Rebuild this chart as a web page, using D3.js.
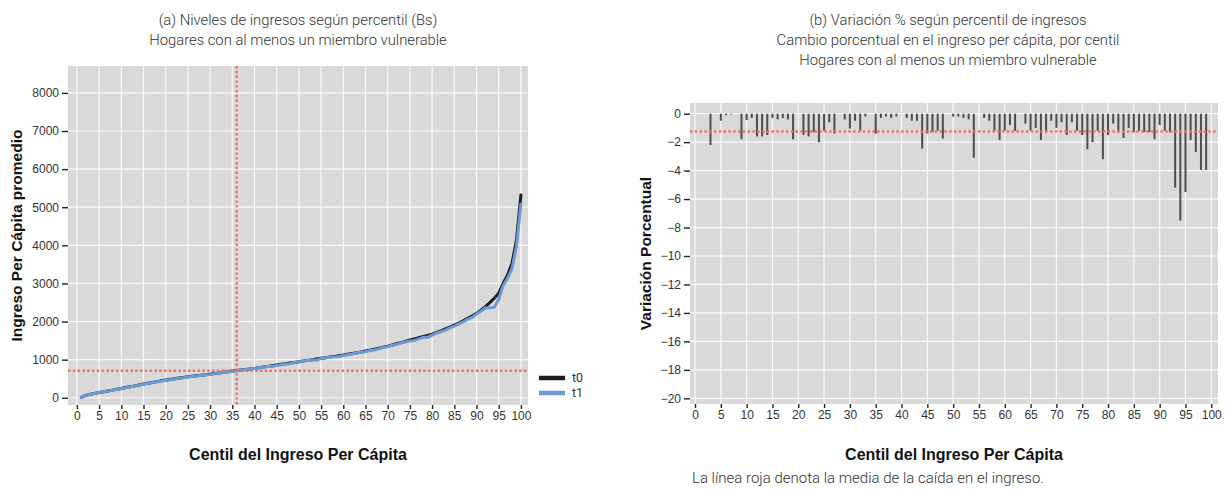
<!DOCTYPE html>
<html><head><meta charset="utf-8">
<script src="https://cdn.jsdelivr.net/npm/d3@7"></script>
<style>
body{margin:0;background:#fff;}
svg{display:block;font-family:Roboto,"Liberation Sans",sans-serif;}
.bold{font-family:"Liberation Sans",Arial,sans-serif;font-weight:700;}
</style>
</head><body>
<svg id="chart" width="1228" height="489"></svg>
<script>
// ---------- data ----------
const centiles = d3.range(1, 101);
const incomeT0 = [10,60,90,115,140,160,180,200,222,245,268,290,312,336,360,380,402,423,444,465,
  482,500,517,534,550,564,578,592,606,620,636,652,668,684,700,714,728,742,756,770,
  788,806,824,842,860,877,894,911,928,945,963,981,999,1017,1035,1052,1069,1086,1103,1120,
  1140,1161,1182,1203,1225,1250,1276,1302,1328,1355,1385,1416,1448,1481,1515,1545,1575,1606,1638,1670,
  1713,1757,1805,1855,1905,1962,2020,2082,2147,2215,2300,2390,2495,2610,2740,3000,3220,3530,4140,5320];
const incomeT1 = [8,58,88,113,139,158,178,198,218,243,265,286,308,331,358,378,400,421,436,464,
  475,492,510,523,543,561,570,591,603,613,633,644,666,683,690,712,726,740,754,769,
  785,802,820,821,848,866,883,895,927,943,961,978,995,985,1034,1049,1064,1073,1083,1107,
  1131,1147,1181,1195,1210,1238,1252,1285,1321,1341,1377,1395,1439,1463,1492,1506,1544,1587,1586,1645,
  1701,1734,1774,1836,1880,1938,1994,2055,2108,2197,2272,2359,2365,2372,2580,2945,3133,3391,3977,5080];
const variationPct = [0,0,-2.2,0,-0.5,-0.1,-0.05,0,-1.8,-0.45,
  -0.3,-1.6,-1.6,-1.5,-0.3,-0.4,-0.3,-0.4,-1.8,0,
  -1.5,-1.6,-1.3,-2.0,-1.2,-0.6,-1.4,0,-0.4,-1.05,
  -0.5,-1.2,-0.2,0,-1.4,-0.3,-0.2,-0.3,-0.2,0,
  -0.3,-0.5,-0.5,-2.45,-1.4,-1.3,-1.2,-1.75,0,-0.2,
  -0.2,-0.3,-0.4,-3.1,0,-0.3,-0.5,-1.2,-1.85,-1.2,
  -0.8,-1.2,0,-0.7,-1.2,-1.0,-1.85,-1.3,-0.5,-1.0,
  -0.6,-1.5,-0.6,-1.2,-1.5,-2.5,-2.0,-1.2,-3.2,-1.5,
  -0.7,-1.3,-1.7,-1.0,-1.3,-1.2,-1.3,-1.3,-1.8,-0.8,
  -1.2,-1.3,-5.2,-7.5,-5.5,-1.85,-2.7,-3.95,-3.95,0];
const meanIncome = 710;
const refCentile = 36;
const meanDrop = -1.25;
const xTickValues = [0,5,10,15,20,25,30,35,40,45,50,55,60,65,70,75,80,85,90,95,100];
const yTicksLeft = [0,1000,2000,3000,4000,5000,6000,7000,8000];
const yTicksRight = [0,-2,-4,-6,-8,-10,-12,-14,-16,-18,-20];
const seriesNames = ["t0","t1"];
const titleLeft = ["(a) Niveles de ingresos según percentil (Bs)","Hogares con al menos un miembro vulnerable"];
const titleRight = ["(b) Variación % según percentil de ingresos","Cambio porcentual en el ingreso per cápita, por centil","Hogares con al menos un miembro vulnerable"];
const xTitle = "Centil del Ingreso Per Cápita";
const yTitleLeft = "Ingreso Per Cápita promedio";
const yTitleRight = "Variación Porcentual";
const caption = "La línea roja denota la media de la caída en el ingreso.";

// ---------- styles ----------
const BG = "#d9d9d9", GRID = "#ffffff", RED = "#f06e68", TXT = "#333";
const colors = {t0:"#1c1c1c", t1:"#6b9bd6"};
const svg = d3.select("#chart");

function panel(g, x, y, xTicks, yTicks) {
  const [x0,x1] = x.range(), [y1,y0] = y.range();
  g.append("rect").attr("x",x0).attr("y",y0).attr("width",x1-x0).attr("height",y1-y0).attr("fill",BG);
  g.selectAll(".gx").data(xTicks).join("line").attr("x1",d=>x(d)).attr("x2",d=>x(d))
    .attr("y1",y0).attr("y2",y1).attr("stroke",GRID).attr("stroke-width",1.2).attr("stroke-opacity",0.85);
  g.selectAll(".gy").data(yTicks).join("line").attr("y1",d=>y(d)).attr("y2",d=>y(d))
    .attr("x1",x0).attr("x2",x1).attr("stroke",GRID).attr("stroke-width",1.2).attr("stroke-opacity",0.85);
}
function axes(g, x, y, yFmt) {
  const [x0] = x.range(), [y1] = y.range();
  const ax = g.append("g").attr("transform",`translate(0,${y1})`)
    .call(d3.axisBottom(x).tickValues(xTickValues).tickSize(4).tickPadding(2).tickFormat(d3.format("d")));
  const ay = g.append("g").attr("transform",`translate(${x0},0)`)
    .call(d3.axisLeft(y).tickValues(y.tickVals).tickSize(6).tickPadding(3).tickFormat(yFmt));
  [ax,ay].forEach(a=>{
    a.select(".domain").remove();
    a.selectAll(".tick line").attr("stroke","#222").attr("stroke-width",1.4);
    a.selectAll(".tick text").attr("fill",TXT).style("font-size","12px");
  });
}

// ---------- left panel ----------
const gL = svg.append("g");
const xL = d3.scaleLinear().domain([-2, 101.6]).range([68, 528]);
const yL = d3.scaleLinear().domain([-190, 8706]).range([405, 66]);
yL.tickVals = yTicksLeft;
panel(gL, xL, yL, xTickValues, yTicksLeft);
const line = vals => d3.line().x((d,i)=>xL(centiles[i])).y(d=>yL(d)).curve(d3.curveLinear)(vals);
[["t0",incomeT0],["t1",incomeT1]].forEach(([k,v])=>{
  gL.append("path").attr("d",line(v)).attr("fill","none").attr("stroke",colors[k])
    .attr("stroke-width",3).attr("stroke-linejoin","round").attr("stroke-linecap","round");
});
gL.append("line").attr("x1",xL.range()[0]).attr("x2",xL.range()[1]).attr("y1",yL(meanIncome)).attr("y2",yL(meanIncome))
  .attr("stroke",RED).attr("stroke-width",2.4).attr("stroke-dasharray","2.4,2.4");
gL.append("line").attr("x1",xL(refCentile)).attr("x2",xL(refCentile)).attr("y1",yL.range()[1]).attr("y2",yL.range()[0])
  .attr("stroke",RED).attr("stroke-width",2.4).attr("stroke-dasharray","2.4,2.4");
axes(gL, xL, yL, d3.format("d"));
gL.selectAll(".title").data(titleLeft).join("text").attr("x",298).attr("y",(d,i)=>25+i*20)
  .attr("text-anchor","middle").attr("fill",TXT).style("font-size","14.8px").style("font-weight",300).text(d=>d);
gL.append("text").attr("class","bold").attr("transform",`translate(22,${(66+405)/2}) rotate(-90)`).attr("text-anchor","middle")
  .attr("fill","#111").style("font-size","15.5px").text(yTitleLeft);
gL.append("text").attr("class","bold").attr("x",298).attr("y",460).attr("text-anchor","middle")
  .attr("fill","#111").style("font-size","16px").text(xTitle);
// legend
const lg = gL.append("g");
seriesNames.forEach((k,i)=>{
  lg.append("line").attr("x1",539).attr("x2",565).attr("y1",378+i*15).attr("y2",378+i*15)
    .attr("stroke",colors[k]).attr("stroke-width",4.5);
  lg.append("text").attr("x",572).attr("y",382+i*15).attr("fill",TXT).style("font-size","12.5px").text(k);
});

// ---------- right panel ----------
const gR = svg.append("g");
const xR = d3.scaleLinear().domain([-0.97, 101.3]).range([690, 1218]);
const yR = d3.scaleLinear().domain([-20.4, 0.75]).range([404, 103]);
yR.tickVals = yTicksRight;
panel(gR, xR, yR, xTickValues, yTicksRight);
gR.selectAll(".bar").data(centiles).join("rect")
  .attr("x",d=>xR(d)-1).attr("width",2)
  .attr("y",(d,i)=>yR(Math.max(0,variationPct[i])))
  .attr("height",(d,i)=>Math.abs(yR(variationPct[i])-yR(0)))
  .attr("fill","#4d4d4d");
gR.append("line").attr("x1",xR.range()[0]).attr("x2",xR.range()[1]).attr("y1",yR(meanDrop)).attr("y2",yR(meanDrop))
  .attr("stroke",RED).attr("stroke-width",2.4).attr("stroke-dasharray","2.4,2.4");
axes(gR, xR, yR, d3.format("d"));
gR.selectAll(".title").data(titleRight).join("text").attr("x",948).attr("y",(d,i)=>25+i*20)
  .attr("text-anchor","middle").attr("fill",TXT).style("font-size","14.8px").style("font-weight",300).text(d=>d);
gR.append("text").attr("class","bold").attr("transform",`translate(651,${(103+404)/2}) rotate(-90)`).attr("text-anchor","middle")
  .attr("fill","#111").style("font-size","15.5px").text(yTitleRight);
gR.append("text").attr("class","bold").attr("x",954).attr("y",460).attr("text-anchor","middle")
  .attr("fill","#111").style("font-size","16px").text(xTitle);
gR.append("text").attr("x",692).attr("y",483).attr("fill",TXT).style("font-size","15px").style("font-weight",300).text(caption);
</script>
</body></html>
